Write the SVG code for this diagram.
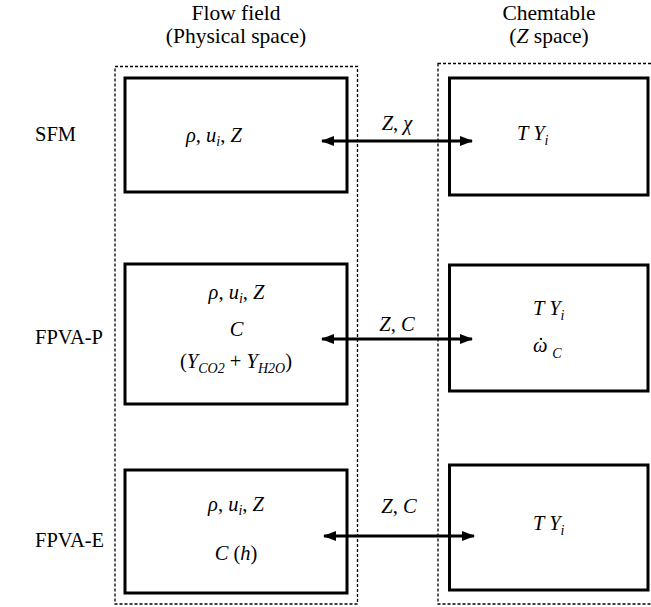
<svg xmlns="http://www.w3.org/2000/svg" width="651" height="607" viewBox="0 0 651 607">
<style>
text{font-family:"Liberation Serif","Times New Roman",serif;font-size:20.5px;fill:#000}
.h{font-size:21.5px}
.i{font-style:italic}
.sub{font-size:14px;font-style:italic}
.box{fill:#fff;stroke:#000;stroke-width:3}
.grp{fill:none;stroke:#000;stroke-width:1.3;stroke-dasharray:3,2}
.conn{stroke:#000;stroke-width:3;fill:none;marker-start:url(#ah);marker-end:url(#ah)}
</style>
<defs>
<marker id="ah" viewBox="0 0 13 10" refX="12" refY="5" markerWidth="13" markerHeight="10" markerUnits="userSpaceOnUse" orient="auto-start-reverse"><path d="M0,0 L13,5 L0,10 z" fill="#000"/></marker>
</defs>
<rect fill="#fff" x="0" y="0" width="651" height="607"/>
<g id="headers">
<text class="h" x="236" y="20" text-anchor="middle">Flow field</text>
<text class="h" x="236" y="43" text-anchor="middle">(Physical space)</text>
<text class="h" x="549" y="20" text-anchor="middle">Chemtable</text>
<text class="h" x="549" y="43" text-anchor="middle">(<tspan class="i">Z</tspan> space)</text>
</g>
<g id="rowlabels">
<text x="35" y="141">SFM</text>
<text x="35" y="344">FPVA-P</text>
<text x="35" y="547">FPVA-E</text>
</g>
<g id="physical-space">
<rect class="grp" x="115" y="66.5" width="242.5" height="537.5"/>
</g>
<g id="z-space">
<rect class="grp" x="438" y="63.5" width="216" height="540.5"/>
</g>
<g id="sfm-flow">
<rect class="box" x="125" y="78" width="222" height="114"/>
<text x="186" y="142"><tspan class="i">ρ</tspan>, <tspan class="i">u</tspan><tspan class="sub" dy="4">i</tspan><tspan dy="-4">, </tspan><tspan class="i">Z</tspan></text>
</g>
<g id="sfm-table">
<rect class="box" x="449.5" y="78" width="198.5" height="117"/>
<text x="517" y="140"><tspan class="i">T Y</tspan><tspan class="sub" dy="5">i</tspan></text>
</g>
<g id="fpvap-flow">
<rect class="box" x="125" y="264" width="222" height="140"/>
<text x="236.5" y="299" text-anchor="middle"><tspan class="i">ρ</tspan>, <tspan class="i">u</tspan><tspan class="sub" dy="4">i</tspan><tspan dy="-4">, </tspan><tspan class="i">Z</tspan></text>
<text x="236.5" y="336" text-anchor="middle" class="i">C</text>
<text x="236" y="368" text-anchor="middle">(<tspan class="i">Y</tspan><tspan class="sub" dy="5">CO2</tspan><tspan dy="-5"> + </tspan><tspan class="i">Y</tspan><tspan class="sub" dy="5">H2O</tspan><tspan dy="-5">)</tspan></text>
</g>
<g id="fpvap-table">
<rect class="box" x="449.5" y="265" width="198.5" height="126"/>
<text x="533" y="315"><tspan class="i">T Y</tspan><tspan class="sub" dy="5">i</tspan></text>
<text x="533" y="352"><tspan class="i">ω</tspan><tspan dx="-10">˙</tspan><tspan class="sub" dy="6" dx="8">C</tspan></text>
</g>
<g id="fpvae-flow">
<rect class="box" x="125" y="470" width="222" height="123"/>
<text x="236" y="511" text-anchor="middle"><tspan class="i">ρ</tspan>, <tspan class="i">u</tspan><tspan class="sub" dy="4">i</tspan><tspan dy="-4">, </tspan><tspan class="i">Z</tspan></text>
<text x="236" y="560" text-anchor="middle"><tspan class="i">C</tspan> (<tspan class="i">h</tspan>)</text>
</g>
<g id="fpvae-table">
<rect class="box" x="449.5" y="465" width="198.5" height="125"/>
<text x="533" y="530"><tspan class="i">T Y</tspan><tspan class="sub" dy="5">i</tspan></text>
</g>
<g id="connectors">
<line class="conn" x1="322" y1="141" x2="472" y2="141"/>
<text x="397" y="130" text-anchor="middle"><tspan class="i">Z</tspan>, <tspan class="i">χ</tspan></text>
<line class="conn" x1="322" y1="339" x2="472" y2="339"/>
<text x="397" y="331" text-anchor="middle"><tspan class="i">Z</tspan>, <tspan class="i">C</tspan></text>
<line class="conn" x1="324" y1="536" x2="474" y2="536"/>
<text x="399" y="513" text-anchor="middle"><tspan class="i">Z</tspan>, <tspan class="i">C</tspan></text>
</g>
</svg>
